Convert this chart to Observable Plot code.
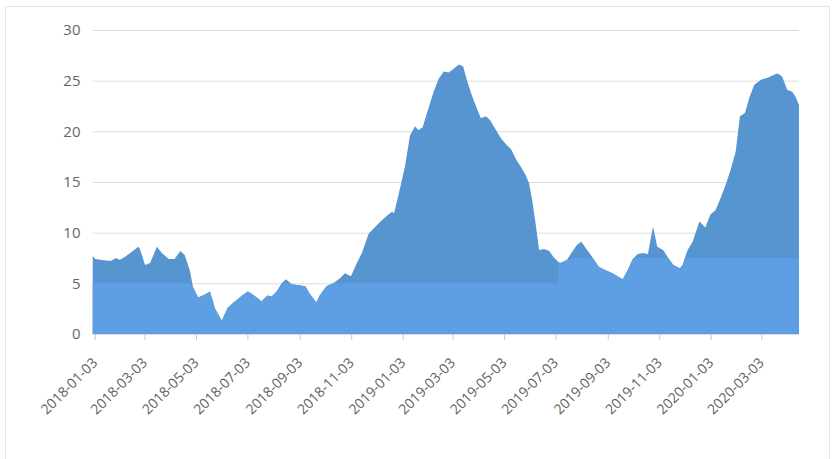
<!DOCTYPE html>
<html><head><meta charset="utf-8">
<script src="https://cdn.jsdelivr.net/npm/d3@7"></script>
<script src="https://cdn.jsdelivr.net/npm/@observablehq/plot@0.6"></script>
<style>
html,body{margin:0;padding:0;background:#fff;}
#frame{position:absolute;left:5px;top:6px;width:825px;height:470px;border:1px solid #e2e2e2;box-sizing:border-box;}
#chart{position:absolute;left:0;top:0;}
</style></head><body>
<div id="frame"></div>
<div id="chart"></div>
<script>
const dates = ["2018-01-03","2018-01-06","2018-01-14","2018-01-24","2018-01-31","2018-02-04","2018-02-10","2018-02-18","2018-02-26","2018-02-28",
"2018-03-06","2018-03-12","2018-03-20","2018-03-26","2018-04-03","2018-04-10","2018-04-17","2018-04-22","2018-04-28","2018-05-02",
"2018-05-08","2018-05-16","2018-05-22","2018-05-28","2018-06-05","2018-06-12","2018-06-19","2018-06-29","2018-07-06","2018-07-10",
"2018-07-18","2018-07-22","2018-07-29","2018-08-03","2018-08-09","2018-08-15","2018-08-20","2018-08-27","2018-09-04","2018-09-12",
"2018-09-17","2018-09-25","2018-09-29","2018-10-07","2018-10-15","2018-10-23","2018-10-29","2018-11-05","2018-11-12","2018-11-18",
"2018-11-26","2018-12-02","2018-12-10","2018-12-18","2018-12-24","2018-12-26","2018-12-31","2019-01-08","2019-01-14","2019-01-20",
"2019-01-24","2019-01-29","2019-02-05","2019-02-11","2019-02-17","2019-02-23","2019-03-01","2019-03-07","2019-03-13","2019-03-18",
"2019-03-23","2019-03-29","2019-04-04","2019-04-08","2019-04-14","2019-04-19","2019-04-26","2019-05-02","2019-05-08","2019-05-14",
"2019-05-20","2019-05-26","2019-05-31","2019-06-04","2019-06-08","2019-06-12","2019-06-16","2019-06-22","2019-06-28","2019-07-03",
"2019-07-09","2019-07-11","2019-07-19","2019-07-25","2019-07-31","2019-08-05","2019-08-10","2019-08-18","2019-08-26","2019-09-03",
"2019-09-11","2019-09-17","2019-09-23","2019-09-29","2019-10-05","2019-10-11","2019-10-17","2019-10-23","2019-10-29","2019-11-03",
"2019-11-10","2019-11-16","2019-11-22","2019-11-30","2019-12-03","2019-12-09","2019-12-15","2019-12-23","2019-12-30","2020-01-05",
"2020-01-11","2020-01-17","2020-01-23","2020-01-29","2020-02-04","2020-02-09","2020-02-15","2020-02-20","2020-02-26","2020-03-05",
"2020-03-13","2020-03-21","2020-03-25","2020-03-30","2020-04-05","2020-04-11","2020-04-15","2020-04-19"];
const values = [7.7,7.4,7.3,7.2,7.5,7.3,7.6,8.1,8.6,8.4,
6.8,7.0,8.6,8.0,7.4,7.4,8.2,7.8,6.3,4.6,
3.6,3.9,4.2,2.5,1.3,2.6,3.1,3.8,4.2,4.0,
3.5,3.2,3.8,3.7,4.2,5.0,5.4,4.9,4.8,4.7,
4.0,3.1,3.8,4.7,5.0,5.5,6.0,5.7,7.0,8.0,
9.9,10.4,11.1,11.7,12.1,11.9,13.6,16.5,19.6,20.5,
20.1,20.4,22.3,23.9,25.2,25.9,25.8,26.2,26.6,26.4,
24.9,23.4,22.1,21.3,21.5,21.1,20.1,19.3,18.7,18.2,
17.2,16.4,15.7,14.9,13.1,10.8,8.3,8.4,8.2,7.6,
7.1,7.0,7.3,8.1,8.8,9.1,8.5,7.6,6.6,6.3,
6.0,5.7,5.4,6.3,7.4,7.9,8.0,7.9,10.6,8.6,
8.3,7.5,6.8,6.5,6.8,8.3,9.1,11.1,10.5,11.8,
12.2,13.4,14.7,16.2,18.0,21.5,21.8,23.3,24.6,25.1,
25.3,25.6,25.7,25.4,24.1,23.9,23.4,22.6];
const bandStarts = ["2018-01-03","2019-07-09"];
const bandLevels = [5, 7.5];
const yTicks = [0, 5, 10, 15, 20, 25, 30];
const xTickLabels = ["2018-01-03","2018-03-03","2018-05-03","2018-07-03","2018-09-03","2018-11-03","2019-01-03",
"2019-03-03","2019-05-03","2019-07-03","2019-09-03","2019-11-03","2020-01-03","2020-03-03"];

const parse = d3.utcParse("%Y-%m-%d");
const data = dates.map((d, i) => ({date: parse(d), value: values[i]}));
const starts = bandStarts.map(parse);
function levelAt(dt) { let l = bandLevels[0]; starts.forEach((s, i) => { if (dt >= s) l = bandLevels[i]; }); return l; }
const light = [];
data.forEach(p => {
  const idx = starts.findIndex(s => +s === +p.date);
  if (idx > 0) light.push({date: p.date, value: Math.min(p.value, bandLevels[idx - 1])});
  light.push({date: p.date, value: Math.min(p.value, levelAt(p.date))});
});
const xTicks = xTickLabels.map(parse);

const chart = Plot.plot({
  width: 833, height: 459,
  marginLeft: 92.7, marginRight: 34, marginTop: 30, marginBottom: 125,
  style: {fontFamily: "'Open Sans', sans-serif", fontSize: "14px", color: "#666", background: "transparent", overflow: "visible"},
  x: {type: "utc", domain: [data[0].date, data[data.length - 1].date]},
  y: {domain: [0, 30]},
  marks: [
    Plot.gridY(yTicks, {stroke: "#dcdcdc", strokeOpacity: 1}),
    Plot.areaY(data, {x: "date", y1: 0, y2: "value", fill: "#5795d0"}),
    Plot.areaY(light, {x: "date", y1: 0, y2: "value", fill: "#5e9ee3"}),
    Plot.axisY(yTicks, {tickSize: 0, tickPadding: 12.7, fill: "#666", fontSize: 15, label: null}),
    Plot.axisX(xTicks, {tickSize: 6, stroke: "#c8c8c8", tickRotate: -45, tickPadding: 20, dx: 2,
      fill: "#606060", fontSize: 14, tickFormat: d3.utcFormat("%Y-%m-%d"), label: null})
  ]
});
document.getElementById("chart").appendChild(chart);
</script>
</body></html>
